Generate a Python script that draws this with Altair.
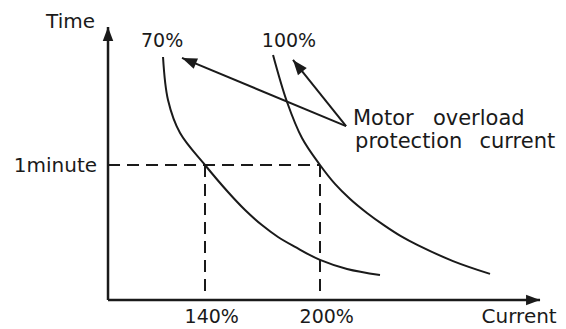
import math
import altair as alt
import pandas as pd

# ---- data (current in %, time in seconds) ----
c70_current = [118.1, 120.7, 127.0, 140.0, 152.0, 160.9, 169.7, 178.1, 187.0, 200.0, 214.1, 231.3]
c70_time = [108.0, 88.9, 74.2, 60.0, 48.0, 40.0, 33.3, 28.0, 23.6, 17.8, 13.8, 11.1]
c100_current = [175.5, 182.8, 190.6, 200.0, 207.8, 215.7, 224.5, 233.3, 242.2, 251.0, 269.4, 288.7]
c100_time = [108.9, 88.0, 72.0, 60.0, 51.6, 44.9, 38.7, 33.3, 28.4, 24.4, 17.3, 11.6]

one_minute = 60
marked_currents = [140, 200]
marked_labels = ["140%", "200%"]

axis_origin = (89.4, 0.0)
x_axis_end = 314.8
y_axis_end = 121.3
dash_bottom = 3.1

callout_from = (213.6, 77.3)
callout_tips = [(128.0, 107.6), (185.9, 106.7)]

# ---- scale layout ----
W, H = 550, 321
X_DOM = [37.22, 324.17]
Y_DOM = [-12.89, 129.78]
KX = W / (X_DOM[1] - X_DOM[0])
KY = H / (Y_DOM[1] - Y_DOM[0])

xs = alt.Scale(domain=X_DOM, nice=False, zero=False)
ys = alt.Scale(domain=Y_DOM, nice=False, zero=False)
INK = "#1a1a1a"
FONT = "DejaVu Sans"


def X(f="x"):
    return alt.X(f"{f}:Q", scale=xs, axis=None)


def Y(f="y"):
    return alt.Y(f"{f}:Q", scale=ys, axis=None)


# curves
curve_df = pd.DataFrame(
    [{"curve": "70%", "i": i, "x": a, "y": b} for i, (a, b) in enumerate(zip(c70_current, c70_time))]
    + [{"curve": "100%", "i": i, "x": a, "y": b} for i, (a, b) in enumerate(zip(c100_current, c100_time))]
)
curves = alt.Chart(curve_df).mark_line(
    interpolate="catmull-rom", color=INK, strokeWidth=2
).encode(x=X(), y=Y(), detail="curve:N", order="i:Q")

# axes
axes_df = pd.DataFrame([
    {"x": axis_origin[0], "y": axis_origin[1], "x2": x_axis_end, "y2": axis_origin[1]},
    {"x": axis_origin[0], "y": axis_origin[1], "x2": axis_origin[0], "y2": y_axis_end},
])
axes = alt.Chart(axes_df).mark_rule(color=INK, strokeWidth=2.5).encode(
    x=X(), y=Y(), x2="x2:Q", y2="y2:Q"
)

# dashed guides
dash_rows = [{"x": axis_origin[0], "y": one_minute, "x2": max(marked_currents), "y2": one_minute}]
for c in marked_currents:
    dash_rows.append({"x": c, "y": one_minute, "x2": c, "y2": dash_bottom})
dashes = alt.Chart(pd.DataFrame(dash_rows)).mark_rule(
    color=INK, strokeWidth=2, strokeDash=[12, 7]
).encode(x=X(), y=Y(), x2="x2:Q", y2="y2:Q")

# callout lines
call_df = pd.DataFrame([
    {"x": callout_from[0], "y": callout_from[1], "x2": t[0], "y2": t[1]} for t in callout_tips
])
callouts = alt.Chart(call_df).mark_rule(color=INK, strokeWidth=2).encode(
    x=X(), y=Y(), x2="x2:Q", y2="y2:Q"
)


def head(tip, frm, length):
    dxp = (tip[0] - frm[0]) * KX
    dyp = -(tip[1] - frm[1]) * KY
    ang = math.atan2(dyp, dxp)
    cx = tip[0] - (length / 2) * math.cos(ang) / KX
    cy = tip[1] + (length / 2) * math.sin(ang) / KY
    return {"x": cx, "y": cy, "angle": math.degrees(ang) % 360, "size": length ** 2}


heads_df = pd.DataFrame(
    [head((x_axis_end, axis_origin[1]), axis_origin, 14),
     head((axis_origin[0], y_axis_end), axis_origin, 14)]
    + [head(t, callout_from, 15) for t in callout_tips]
)
heads = alt.Chart(heads_df).mark_point(
    shape="M1,0L-1,0.75L-1,-0.75Z", filled=True, color=INK, opacity=1, strokeWidth=0
).encode(
    x=X(), y=Y(),
    angle=alt.Angle("angle:Q", scale=None),
    size=alt.Size("size:Q", scale=None),
)

# text
def text_layer(rows, align, size):
    return alt.Chart(pd.DataFrame(rows)).mark_text(
        align=align, baseline="alphabetic", font=FONT, fontSize=size, color=INK
    ).encode(x=X(), y=Y(), text="t:N")


BOTTOM = -10.2
right20 = text_layer([
    {"x": 82.6, "y": 120.9, "t": "Time"},
    {"x": 83.7, "y": 56.9, "t": "1minute"},
    {"x": 323.5, "y": BOTTOM, "t": "Current"},
], "right", 20)
center19 = text_layer(
    [{"x": 117.6, "y": 112.4, "t": "70%"}, {"x": 183.8, "y": 112.4, "t": "100%"}]
    + [{"x": c + 3.5, "y": BOTTOM, "t": l} for c, l in zip(marked_currents, marked_labels)],
    "center", 19)
left21 = text_layer([
    {"x": 217.2, "y": 77.8, "t": "Motor"},
    {"x": 258.9, "y": 77.8, "t": "overload"},
    {"x": 218.3, "y": 67.6, "t": "protection"},
    {"x": 283.2, "y": 67.6, "t": "current"},
], "left", 21)

chart = alt.layer(
    dashes, axes, curves, callouts, heads, right20, center19, left21
).properties(
    width=W, height=H, padding=0, autosize=alt.AutoSizeParams(type="none"),
    background="white",
).configure_view(stroke=None)

chart.save("out.html", embed_options={"renderer": "svg", "actions": False})
